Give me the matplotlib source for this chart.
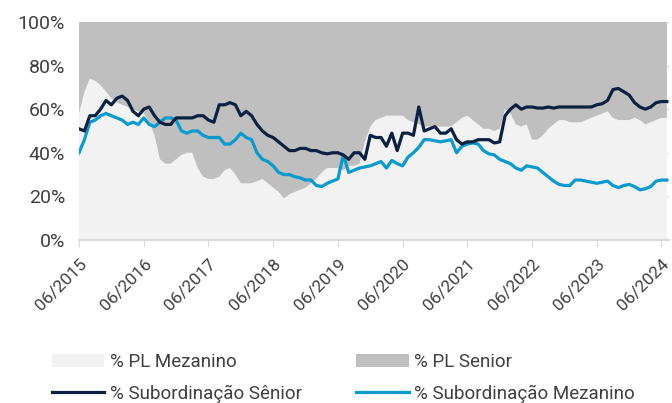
import matplotlib
matplotlib.use("Agg")
import matplotlib.pyplot as plt
import numpy as np

# monthly data, 06/2015 .. 07/2024 (values in %)
pl_mezanino = [58, 68, 74, 73, 71, 68, 65, 63, 62, 61, 60, 59, 58, 54, 48, 37, 35, 35, 37, 39,
               40, 40, 33, 29, 28, 28, 29, 32, 33, 30, 26, 26, 26, 27, 28, 26, 24, 22, 19, 21,
               22, 23, 24, 26, 28, 31, 33, 33, 33, 32, 34, 34, 35, 45, 52, 55, 56, 57, 57, 57,
               57, 55, 54, 53, 52, 52, 52, 52, 52, 52, 54, 56, 57, 55, 53, 51, 51, 50, 51, 60,
               58, 53, 52, 53, 46, 46, 48, 51, 53, 55, 55, 54, 54, 54, 55, 56, 57, 58, 59, 56,
               55, 55, 55, 56, 55, 53, 54, 55, 56, 56]
sub_senior = [51, 50, 57, 57, 60, 64, 62, 65, 66, 64, 59, 57, 60, 61, 57, 54, 53, 53, 56, 56,
              56, 56, 57, 57, 55, 54, 62, 62, 63, 62, 57, 59, 57, 53, 50, 48, 47, 45, 43, 41,
              41, 42, 42, 41, 41, 40, 39.5, 40, 40, 39, 37, 40, 40, 37, 48, 47, 47, 43, 49, 41,
              49, 49, 48, 61, 50, 51, 52, 49, 49, 51, 46, 44, 45, 45, 46, 46, 46, 44.5, 45, 57,
              60, 62, 60, 61, 61, 60.5, 60.5, 61, 60.5, 61, 61, 61, 61, 61, 61, 61, 62, 62.5, 64, 69,
              69.5, 68, 66.5, 63, 61, 60, 61, 63, 63.5, 63.5]
sub_mezanino = [40, 46, 54, 55, 57, 58, 57, 56, 55, 53, 54, 53, 56, 53, 52, 54, 56, 56, 55, 50,
                49, 50, 50, 48, 47, 47, 47, 44, 44, 46, 49, 47, 46, 40, 37, 36, 34, 31, 30, 30,
                29, 28.5, 27.5, 27.5, 25, 24.5, 26, 27, 28, 39, 31, 32, 33, 33.5, 34, 35, 36, 33, 36.5, 35,
                34, 38, 40, 42.5, 46, 46, 45.5, 45, 45.5, 46, 40, 43, 44, 44.5, 44, 41, 39.5, 39, 37, 36,
                35, 33, 32, 34, 33.5, 33, 31, 29, 27, 25.5, 25, 25, 27.5, 27.5, 27, 26.5, 26, 26.5, 27, 25,
                24, 25, 25.5, 24.5, 23, 23.5, 24.5, 27, 27.5, 27.5]
tick_labels = ["06/2015", "06/2016", "06/2017", "06/2018", "06/2019",
               "06/2020", "06/2021", "06/2022", "06/2023", "06/2024"]

x = np.arange(len(pl_mezanino))
pl_senior = 100 - np.array(pl_mezanino)

plt.rcParams['font.family'] = ['Roboto', 'DejaVu Sans']
txt = '#404040'

fig = plt.figure(figsize=(6.72, 4.03), dpi=100)
ax = fig.add_axes([0.1176, 0.4045, 0.878, 0.541])

for v in [20, 40, 60, 80, 100]:
    ax.axhline(v, color='#d9d9d9', lw=0.8, zorder=0)

ax.stackplot(x, pl_mezanino, pl_senior, colors=['#f2f2f2', '#bfbfbf'],
             labels=['% PL Mezanino', '% PL Senior'], zorder=1)
ax.plot(x, sub_senior, color='#0c2141', lw=2.3, label='% Subordinação Sênior', zorder=3)
ax.plot(x, sub_mezanino, color='#0a9acd', lw=2.3, label='% Subordinação Mezanino', zorder=2)

ax.set_xlim(0, len(x) - 1 + 0.4)
ax.set_ylim(0, 100)
ax.set_yticks([0, 20, 40, 60, 80, 100])
ax.set_yticklabels([f"{v}%" for v in [0, 20, 40, 60, 80, 100]], fontsize=14, color=txt)
ax.set_xticks(np.arange(0, len(x), 12))
ax.set_xticklabels(tick_labels, rotation=45, ha='right', rotation_mode='anchor',
                   fontsize=12.5, color=txt)
ax.tick_params(axis='y', length=0, pad=10)
ax.tick_params(axis='x', length=5, color='#d9d9d9', pad=7)
for s in ['top', 'right', 'left']:
    ax.spines[s].set_visible(False)
ax.spines['bottom'].set_color('#d9d9d9')
ax.spines['bottom'].set_linewidth(1.5)

h, l = ax.get_legend_handles_labels()
order = [0, 2, 1, 3]
fig.legend([h[i] for i in order], [l[i] for i in order], ncol=2, frameon=False,
           loc='upper left', bbox_to_anchor=(0.052, 0.165), fontsize=13.5,
           handlelength=2.8, handletextpad=0.3, columnspacing=2.9, labelspacing=0.72,
           labelcolor=txt)

fig.savefig('out.png', dpi=100)
